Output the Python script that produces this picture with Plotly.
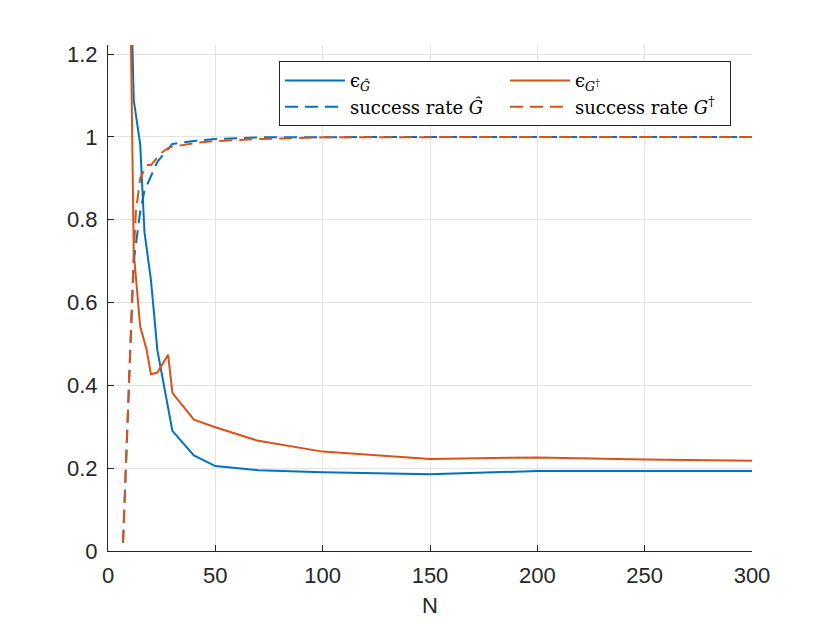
import plotly.graph_objects as go

# epsilon for G-hat (blue solid)
n_eps_hat = [10, 12, 15, 17, 20, 23, 30, 40, 50, 70, 100, 150, 200, 250, 300]
eps_hat = [1.50, 1.089, 0.982, 0.77, 0.655, 0.485, 0.290, 0.231, 0.205, 0.195, 0.190, 0.1855, 0.193, 0.1935, 0.1935]

# epsilon for G-dagger (orange solid)
n_eps_dag = [10, 12, 15, 18, 20, 23, 28, 30, 40, 50, 70, 100, 150, 200, 250, 300]
eps_dag = [1.50, 0.72, 0.542, 0.486, 0.427, 0.431, 0.474, 0.382, 0.317, 0.299, 0.266, 0.240, 0.222, 0.226, 0.221, 0.218]

# success rate G-hat (blue dashed)
n_sr_hat = [7, 10, 12, 15, 17, 20, 23, 27, 30, 40, 50, 70, 100, 150, 200, 250, 300]
sr_hat = [0.02, 0.45, 0.70, 0.82, 0.87, 0.905, 0.94, 0.965, 0.983, 0.99, 0.995, 0.999, 1.0, 1.0, 1.0, 1.0, 1.0]

# success rate G-dagger (orange dashed)
n_sr_dag = [7, 10, 12, 13, 15, 18, 20, 25, 28, 30, 40, 50, 70, 100, 150, 200, 250, 300]
sr_dag = [0.02, 0.45, 0.72, 0.82, 0.90, 0.932, 0.932, 0.962, 0.973, 0.976, 0.985, 0.99, 0.995, 0.999, 1.0, 1.0, 1.0, 1.0]

x_ticks = [0, 50, 100, 150, 200, 250, 300]
y_ticks = [0, 0.2, 0.4, 0.6, 0.8, 1.0, 1.2]
y_tick_text = ["0", "0.2", "0.4", "0.6", "0.8", "1", "1.2"]

BLUE = "#0072BD"
ORANGE = "#D95319"
DASH = "13px,7px"

fig = go.Figure()
fig.add_trace(go.Scatter(x=n_eps_hat, y=eps_hat, mode="lines",
                         line=dict(color=BLUE, width=2),
                         name="ϵ<sub><i>Ĝ</i></sub>"))
fig.add_trace(go.Scatter(x=n_eps_dag, y=eps_dag, mode="lines",
                         line=dict(color=ORANGE, width=2),
                         name="ϵ<sub><i>G</i><sup>†</sup></sub>"))
fig.add_trace(go.Scatter(x=n_sr_hat, y=sr_hat, mode="lines",
                         line=dict(color=BLUE, width=2, dash=DASH),
                         name="success rate <i>Ĝ</i>"))
fig.add_trace(go.Scatter(x=n_sr_dag, y=sr_dag, mode="lines",
                         line=dict(color=ORANGE, width=2, dash=DASH),
                         name="success rate <i>G</i><sup>†</sup>"))

TICKFONT = dict(family="Liberation Sans, Arial, sans-serif", size=22, color="#262626")
axis_common = dict(
    showgrid=True, gridcolor="#e3e3e3", gridwidth=1,
    showline=True, linecolor="#262626", linewidth=1,
    ticks="inside", ticklen=6, tickcolor="#262626",
    zeroline=False, mirror=False,
    tickfont=TICKFONT,
)

fig.update_layout(
    width=830, height=623,
    paper_bgcolor="white", plot_bgcolor="white",
    margin=dict(l=100, r=86, t=37, b=80),
    xaxis=dict(range=[0, 300], tickvals=x_ticks, ticklabelstandoff=5,
               title=dict(text="N", font=dict(family="Liberation Sans, Arial, sans-serif", size=22, color="#262626"), standoff=10),
               **axis_common),
    yaxis=dict(range=[0, 1.222], tickvals=y_ticks, ticktext=y_tick_text, ticklabelstandoff=5, **axis_common),
    legend=dict(
        orientation="h", x=0.2655, y=0.968, xanchor="left", yanchor="top",
        bgcolor="white", bordercolor="#262626", borderwidth=1,
        font=dict(family="DejaVu Serif, serif", size=18, color="#000000"),
        entrywidth=150, entrywidthmode="pixels",
        itemwidth=60, tracegroupgap=0,
    ),
    showlegend=True,
)

fig.write_html("out.html")
